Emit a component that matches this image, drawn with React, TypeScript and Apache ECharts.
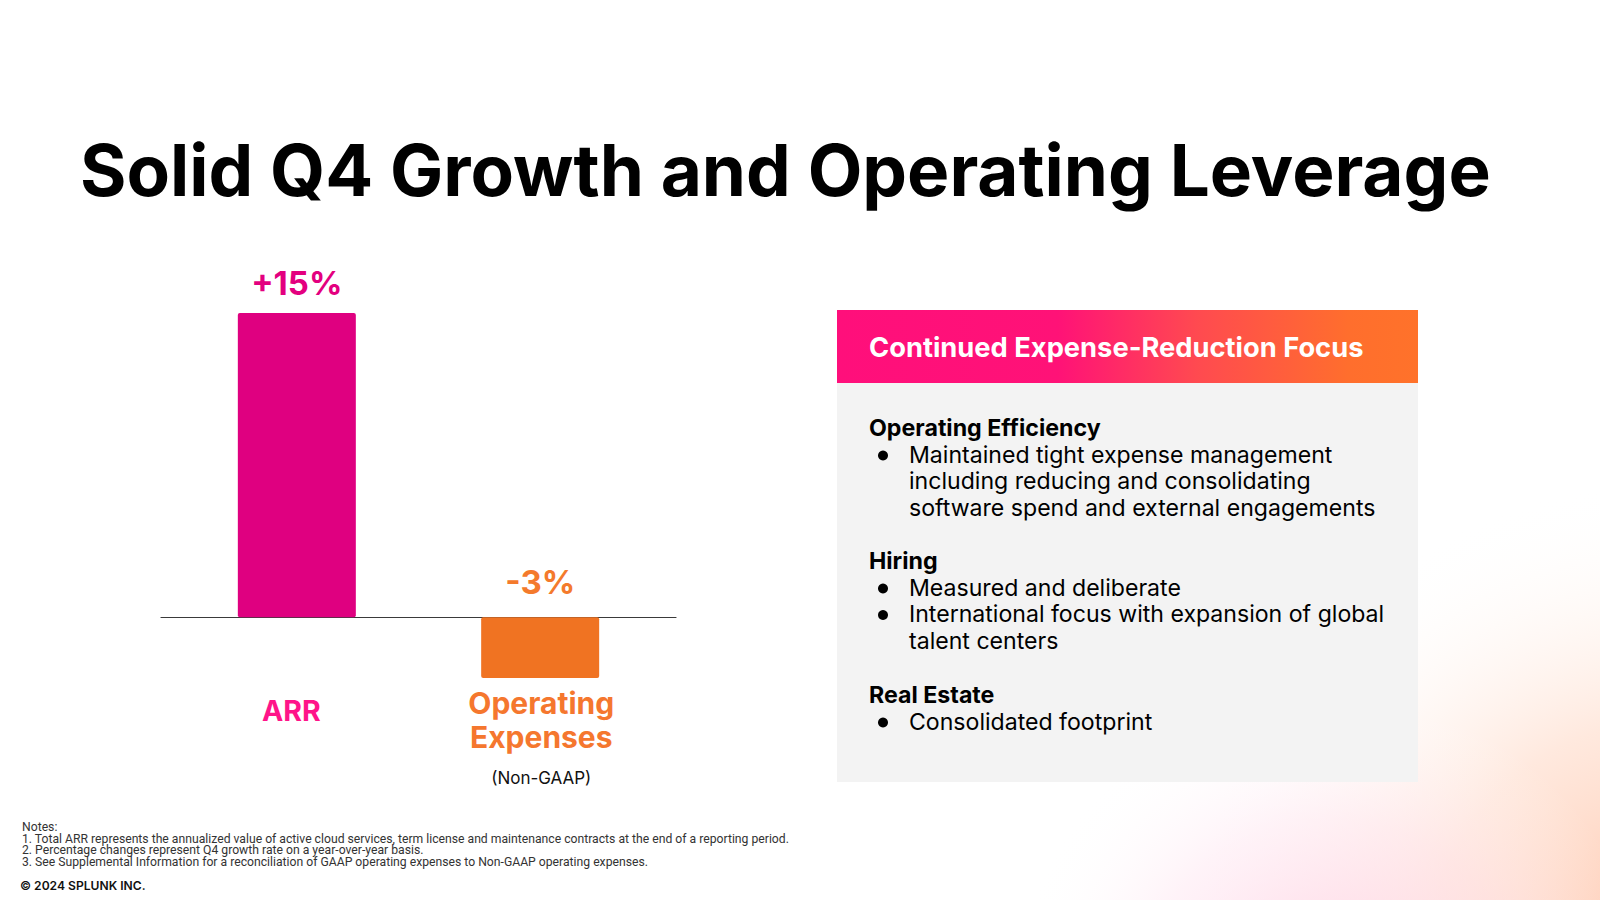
import React, { useEffect, useRef } from "react";
import * as echarts from "echarts";

const titleText = "Solid Q4 Growth and Operating Leverage";
const categories = ["ARR", "Operating Expenses"];
const changes = [15, -3];
const barColors = ["#DF0080", "#F07322"];
const valueLabelColors = ["#E3007F", "#F47A2C"];

const panelTitle = "Continued Expense-Reduction Focus";
const panelSections = [
  { heading: "Operating Efficiency", bullets: [["Maintained tight expense management", "including reducing and consolidating", "software spend and external engagements"]] },
  { heading: "Hiring", bullets: [["Measured and deliberate"], ["International focus with expansion of global", "talent centers"]] },
  { heading: "Real Estate", bullets: [["Consolidated footprint"]] },
];
const notes = [
  "Notes:",
  "1. Total ARR represents the annualized value of active cloud services, term license and maintenance contracts at the end of a reporting period.",
  "2. Percentage changes represent Q4 growth rate on a year-over-year basis.",
  "3. See Supplemental Information for a reconciliation of GAAP operating expenses to Non-GAAP operating expenses.",
];
const copyright = "© 2024 SPLUNK INC.";

const FONT = "Inter, 'Noto Sans', sans-serif";

function buildGraphic() {
  const els: any[] = [];
  // background glow
  els.push({
    type: "rect", z: -10, silent: true,
    shape: { x: 600, y: 350, width: 1000, height: 550 },
    style: { fill: new echarts.graphic.RadialGradient(1670, 960, 480, [
      { offset: 0, color: "rgba(255,194,166,1)" },
      { offset: 0.5, color: "rgba(255,218,200,0.6)" },
      { offset: 1, color: "rgba(255,255,255,0)" },
    ], true) },
  });
  els.push({
    type: "rect", z: -9, silent: true,
    shape: { x: 600, y: 350, width: 1000, height: 550 },
    style: { fill: new echarts.graphic.RadialGradient(1330, 1010, 320, [
      { offset: 0, color: "rgba(255,205,225,0.9)" },
      { offset: 0.6, color: "rgba(255,225,238,0.4)" },
      { offset: 1, color: "rgba(255,255,255,0)" },
    ], true) },
  });
  // title
  els.push({
    type: "text", x: 80, y: 170,
    style: { text: titleText, fontFamily: FONT, fontWeight: "bold", fontSize: 71, fill: "#000", verticalAlign: "middle", align: "left" },
  });
  // panel
  els.push({ type: "rect", shape: { x: 837, y: 383, width: 581, height: 399 }, style: { fill: "#F3F3F3" } });
  els.push({
    type: "rect", shape: { x: 837, y: 310, width: 581, height: 73 },
    style: { fill: new echarts.graphic.LinearGradient(0, 0, 1, 0, [
      { offset: 0, color: "#FF0F7B" },
      { offset: 0.38, color: "#FF1277" },
      { offset: 0.62, color: "#FF4A50" },
      { offset: 0.88, color: "#FF6E2D" },
      { offset: 1, color: "#FF722A" },
    ]) },
  });
  els.push({
    type: "text", x: 869, y: 347,
    style: { text: panelTitle, fontFamily: FONT, fontWeight: "bold", fontSize: 27.3, fill: "#fff", verticalAlign: "middle" },
  });
  const headingY = [428, 561, 695];
  const lineH = 26.5;
  panelSections.forEach((sec, i) => {
    let y = headingY[i];
    els.push({ type: "text", x: 869, y, style: { text: sec.heading, fontFamily: FONT, fontWeight: "bold", fontSize: 23.2, fill: "#000", verticalAlign: "middle" } });
    y += lineH;
    sec.bullets.forEach((b) => {
      els.push({ type: "circle", shape: { cx: 883, cy: y + 1, r: 5 }, style: { fill: "#000" } });
      b.forEach((line) => {
        els.push({ type: "text", x: 909, y, style: { text: line, fontFamily: FONT, fontSize: 23.1, fill: "#000", verticalAlign: "middle" } });
        y += lineH;
      });
    });
  });
  // notes
  const noteY = [827, 839, 850, 862];
  notes.forEach((n, i) => {
    els.push({ type: "text", x: 22, y: noteY[i], style: { text: n, fontFamily: "Roboto, sans-serif", fontSize: 12.2, fill: "#333", verticalAlign: "middle" } });
  });
  els.push({ type: "text", x: 20, y: 885, style: { text: copyright, fontFamily: FONT, fontWeight: 600, fontSize: 12.1, fill: "#111", verticalAlign: "middle" } });
  return els;
}

export default function App() {
  const ref = useRef<HTMLDivElement>(null);
  useEffect(() => {
    document.body.style.margin = "0";
    const chart = echarts.init(ref.current!, null, { renderer: "svg" });
    const mkSeries = (idx: number, distance: number) => ({
      type: "bar",
      name: categories[idx],
      data: categories.map((_, j) => (j === idx ? changes[j] : "-")),
      barWidth: 118,
      barGap: "-88%",
      itemStyle: { color: barColors[idx], borderRadius: 2 },
      label: {
        show: true,
        position: "top",
        distance,
        formatter: (p: any) => (p.value > 0 ? "+" : "") + p.value + "%",
        color: valueLabelColors[idx],
        fontFamily: FONT,
        fontWeight: "bold",
        fontSize: 33,
      },
    });
    chart.setOption({
      animation: false,
      backgroundColor: "#fff",
      grid: { left: 161, right: 924, top: 313, bottom: 222 },
      xAxis: {
        type: "category",
        data: categories,
        axisLine: { onZero: true, lineStyle: { color: "#3a3a3a", width: 1.2 } },
        axisTick: { show: false },
        axisLabel: {
          margin: 8,
          interval: 0,
          formatter: (v: string) => (v === "ARR" ? "{arr|ARR}" : "{op|Operating}\n{op|Expenses}\n{ng|(Non-GAAP)}"),
          rich: {
            arr: { color: "#FF1489", fontFamily: FONT, fontWeight: "bold", fontSize: 28.5, lineHeight: 46, padding: [2, 0, 0, 3] },
            op: { color: "#F5772E", fontFamily: FONT, fontWeight: "bold", fontSize: 30, lineHeight: 34, padding: [0, 12, 0, 0] },
            ng: { color: "#111", fontFamily: FONT, fontSize: 17, lineHeight: 48, padding: [0, 12, 0, 0] },
          },
        },
      },
      yAxis: { type: "value", min: -3, max: 15, show: false, splitLine: { show: false } },
      series: [mkSeries(1, 19), mkSeries(0, 14)],
      graphic: buildGraphic(),
    });
    return () => chart.dispose();
  }, []);
  return <div ref={ref} style={{ width: 1600, height: 900 }} />;
}
